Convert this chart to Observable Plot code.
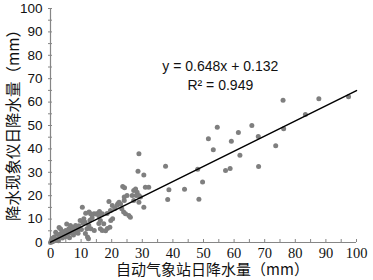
<!DOCTYPE html>
<html><head><meta charset="utf-8">
<script src="https://cdn.jsdelivr.net/npm/d3@7"></script>
<script src="https://cdn.jsdelivr.net/npm/@observablehq/plot@0.6"></script>
<style>body{margin:0;background:#fff}</style>
</head><body><div id="chart"></div>
<script>
const xs = [0,0.3,0.6,0.5,1.0,1.2,1.5,1.7,2.1,2.4,2.6,2.8,3.0,3.3,3.5,3.6,3.9,4.2,4.5,4.8,5.0,5.3,5.6,6.0,6.2,6.3,6.5,6.9,7.1,7.5,7.5,7.9,8.2,8.5,8.9,9.0,9.3,9.5,9.7,10.1,10.4,10.6,10.9,11.3,11.4,11.5,11.9,12.1,12.4,12.5,12.6,12.9,13.1,13.2,13.6,14.2,14.3,14.8,15.4,15.8,15.8,16.0,16.3,16.3,16.9,16.9,17.4,18.0,18.5,18.6,19.1,19.4,19.6,19.7,20.2,20.3,21.0,21.8,22.0,22.4,22.9,23.3,23.6,23.9,24.1,24.2,24.5,24.1,25.0,25.6,26.1,26.7,27.2,27.2,27.8,28.0,28.3,28.9,29.4,28.9,28.9,28.6,30.5,30.5,31.0,32.1,37.6,38.7,38.3,43.8,48.5,48.1,49.7,51.6,53.2,54.5,57.2,58.7,59.1,61.4,61.9,65.8,67.9,68.0,73.6,76.0,76.2,83.3,87.7,97.4];
const ys = [0,0.9,0.3,1.7,0.6,2.4,1.1,4.4,3.6,1.6,0.8,6.4,2.6,5.8,4.0,3.1,1.9,4.6,3.3,2.5,5.1,7.9,3.6,5.9,2.0,4.1,7.3,4.8,6.5,5.8,3.2,4.4,7.3,6.1,5.2,4.0,7.2,6.0,9.4,5.6,15.1,8.3,10.1,8.7,3.8,12.5,5.9,2.4,1.6,7.4,13.0,9.5,12.3,5.9,10.6,12.3,5.1,12.2,12.4,11.4,8.1,13.3,9.4,5.9,5.1,12.3,8.0,5.0,12.4,6.0,17.5,6.5,13.7,9.4,15.8,10.2,14.5,15.9,16.6,17.2,16.4,14.4,23.9,13.0,18.0,23.4,12.3,19.4,20.1,11.5,10.8,20.1,18.0,22.2,22.9,20.1,21.5,20.1,19.4,17.2,37.9,30.5,28.8,15.1,23.6,23.6,32.6,22.5,18.4,22.8,18.5,31.3,25.9,44.3,39.6,49.3,30.8,31.6,43.3,47.0,37.3,50.0,45.3,32.5,41.3,60.8,48.6,54.7,61.4,62.3];
const tickLabels = d3.range(0, 101, 10);
const minorTicks = d3.range(0, 101, 5);
const slope = 0.648, intercept = 0.132;
const fitRange = [0, 100];
const eqText = "y = 0.648x + 0.132";
const r2Text = "R² = 0.949";
const eqPos = [55.5, 75.0];
const r2Pos = [55.5, 67.0];
const xTitle = "自动气象站日降水量（mm）";
const yTitle = "降水现象仪日降水量（mm）";

const points = xs.map((x, i) => ({x, y: ys[i]}));
const fitLine = fitRange.map(x => ({x, y: slope * x + intercept}));
const axisColor = "#868686";
const blank = () => "";

const plot = Plot.plot({
  width: 373, height: 280,
  marginLeft: 50, marginRight: 17, marginTop: 8, marginBottom: 38,
  x: {domain: [0, 100]},
  y: {domain: [0, 100]},
  style: {background: "#fff", overflow: "visible"},
  marks: [
    Plot.axisY(minorTicks, {tickSize: 4, dx: 2, tickFormat: blank, label: null, stroke: axisColor}),
    Plot.axisX(minorTicks, {tickSize: 3, dy: -3, tickFormat: blank, label: null, stroke: axisColor}),
    Plot.axisY(tickLabels, {tickSize: 0, tickPadding: 8, label: null, fontSize: 13.5, fontFamily: "Liberation Sans", fill: "#111"}),
    Plot.axisX(tickLabels, {tickSize: 0, tickPadding: 5, label: null, fontSize: 14.5, fontFamily: "Liberation Serif", fill: "#111"}),
    Plot.ruleX([0], {stroke: axisColor, strokeWidth: 1.2}),
    Plot.ruleY([0], {stroke: axisColor, strokeWidth: 1.2}),
    Plot.dot(points, {x: "x", y: "y", r: 2.5, fill: "#7f7f7f", stroke: null}),
    Plot.line(fitLine, {x: "x", y: "y", stroke: "#000", strokeWidth: 1.5}),
    Plot.text([eqText], {x: () => eqPos[0], y: () => eqPos[1], text: d => d, fontSize: 14, fontFamily: "Liberation Sans", fill: "#111"}),
    Plot.text([r2Text], {x: () => r2Pos[0], y: () => r2Pos[1], text: d => d, fontSize: 14, fontFamily: "Liberation Sans", fill: "#111"}),
    Plot.text([xTitle], {frameAnchor: "bottom", dy: 28, dx: 9, textAnchor: "middle", lineAnchor: "middle", text: d => d, fontSize: 15, fontFamily: "Noto Sans CJK SC", fill: "#111"}),
    Plot.text([yTitle], {frameAnchor: "left", dx: -36, dy: -4, rotate: -90, textAnchor: "middle", lineAnchor: "middle", text: d => d, fontSize: 15.5, fontFamily: "Noto Sans CJK SC", fill: "#111"})
  ]
});
document.getElementById("chart").appendChild(plot);
</script>
</body></html>
